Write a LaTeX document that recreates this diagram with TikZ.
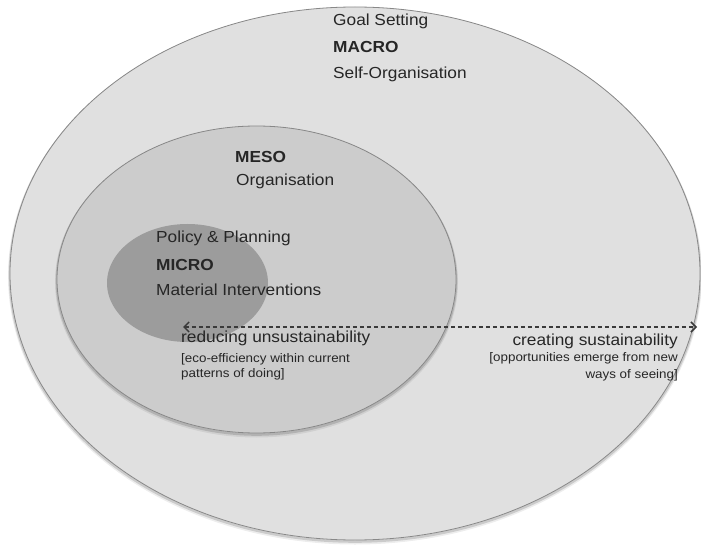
\documentclass[tikz,border=0pt]{standalone}
\usepackage{fontspec}
\setmainfont[FakeStretch=1.08]{Liberation Sans}
\usetikzlibrary{arrows.meta}
\definecolor{outerfill}{HTML}{E0E0E0}
\definecolor{midfill}{HTML}{CCCCCC}
\definecolor{innerfill}{HTML}{9C9C9C}
\definecolor{rimcol}{HTML}{888888}
\definecolor{txtcol}{HTML}{262626}
\definecolor{arrcol}{HTML}{3A3A3A}
\tikzset{
  ring/.style={draw=rimcol, line width=0.8pt},
  shadeA/.style={draw=black, line width=4pt, opacity=0.07},
  shadeB/.style={draw=black, line width=2.6pt, opacity=0.14},
  lbl/.style={inner sep=0pt, anchor=base west, text=txtcol, font=\fontsize{16}{19}\selectfont},
  lblb/.style={lbl, font=\fontsize{16}{19}\selectfont\bfseries},
  small/.style={inner sep=0pt, anchor=base west, text=txtcol, font=\fontsize{12.4}{15}\selectfont},
  lblr/.style={lbl, anchor=base east},
  smallr/.style={small, anchor=base east},
  dasharrow/.style={draw=arrcol, line width=1.3pt, dash pattern=on 4.5pt off 2.5pt,
    {Straight Barb[length=5pt,width=10pt,line width=1.5pt]}-{Straight Barb[length=5pt,width=10pt,line width=1.5pt]}}
}
\begin{document}
\begin{tikzpicture}[x=1pt,y=-1pt]
\useasboundingbox (0,0) rectangle (701,545);
\fill[white] (0,0) rectangle (701,545);
% outer (MACRO)
\draw[shadeA] (355,276) ellipse [x radius=345, y radius=266.5];
\draw[shadeB] (355,275) ellipse [x radius=345, y radius=266.5];
\filldraw[ring, fill=outerfill] (355,273.5) ellipse [x radius=345, y radius=266.5];
% middle (MESO)
\draw[shadeA] (256.5,282) ellipse [x radius=199.5, y radius=153.5];
\draw[shadeB] (256.5,281) ellipse [x radius=199.5, y radius=153.5];
\filldraw[ring, fill=midfill] (256.5,279.5) ellipse [x radius=199.5, y radius=153.5];
% inner (MICRO)
\fill[innerfill] (187.5,283) ellipse [x radius=80.5, y radius=59];
% texts
\node[lbl]  (goal)  at (333,26)  {Goal Setting};
\node[lblb] (macro) at (333,53)  {MACRO};
\node[lbl]  (self)  at (333,79)  {Self-Organisation};
\node[lblb] (meso)  at (235,163) {MESO};
\node[lbl]  (org)   at (236,186) {Organisation};
\node[lbl]  (pol)   at (156,243) {Policy \& Planning};
\node[lblb] (micro) at (156,270) {MICRO};
\node[lbl]  (mat)   at (156,295) {Material Interventions};
\node[lbl]  (red)   at (181,342) {reducing unsustainability};
\node[small] (eco1) at (181,362) {[eco-efficiency within current};
\node[small] (eco2) at (181,377) {patterns of doing]};
\node[lblr] (cre)   at (678,345) {creating sustainability};
\node[smallr] (opp1) at (678,361) {[opportunities emerge from new};
\node[smallr] (opp2) at (678,378) {ways of seeing]};
% arrow
\coordinate (aL) at (183,327);
\coordinate (aR) at (697,327);
\draw[dasharrow] (aL) -- (aR);
\end{tikzpicture}
\end{document}
